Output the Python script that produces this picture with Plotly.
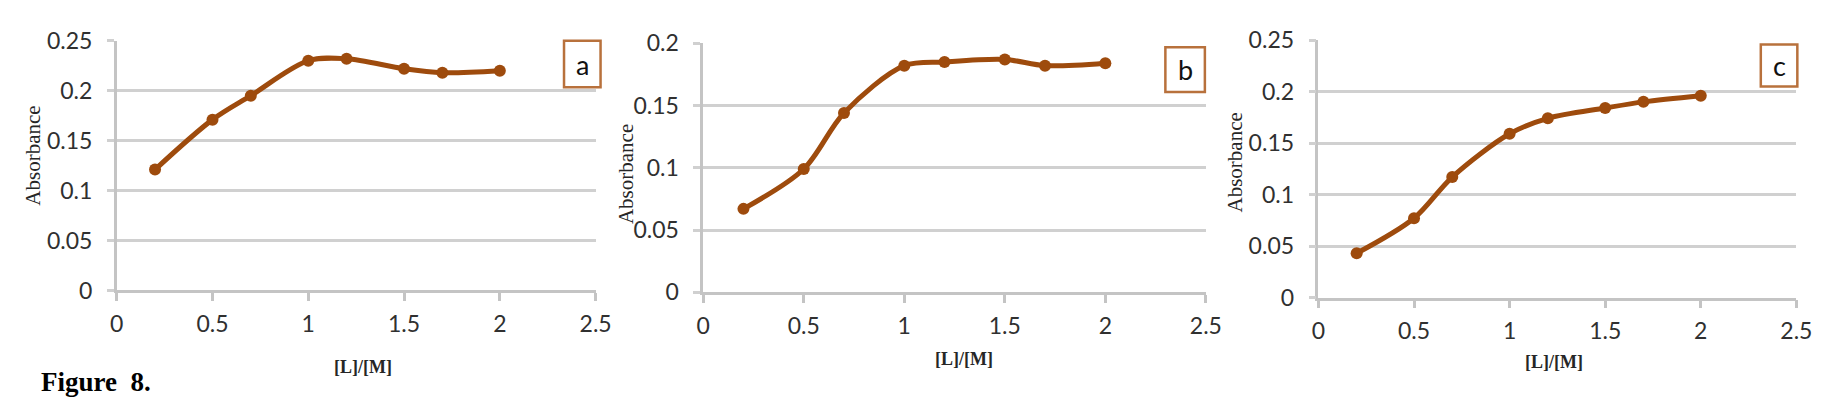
import plotly.graph_objects as go

W, H = 1832, 417

ratio = [0.2, 0.5, 0.7, 1.0, 1.2, 1.5, 1.7, 2.0]
abs_a = [0.121, 0.171, 0.195, 0.230, 0.232, 0.222, 0.218, 0.220]
abs_b = [0.067, 0.099, 0.144, 0.182, 0.185, 0.187, 0.182, 0.184]
abs_c = [0.043, 0.077, 0.117, 0.159, 0.174, 0.184, 0.190, 0.196]
panel_labels = ["a", "b", "c"]
x_title = "[L]/[M]"
y_title = "Absorbance"
caption = "Figure&nbsp;&nbsp;8."

BROWN = "#9E4B0D"
BOX = "#B8713C"
GRID = "#D0D0D0"
AXIS = "#C4C4C4"
TICKFONT = dict(family="Liberation Sans Narrow, Lato", size=23, color="#303030")

# pixel geometry of each panel: x0, x1 (px), ytop, ybottom (px)
panels = [
    dict(x=(103, 588), y=(19, 286.7), ymax=0.25, ytitle=(18, 142.5), xtitle=(352, 368.5), box=(556, 593, 19, 69)),
    dict(x=(697, 1206), y=(21.7, 288.7), ymax=0.20, ytitle=(619, 161.7), xtitle=(961, 360), box=(1165, 1205, 26, 74)),
    dict(x=(1320, 1804), y=(18.3, 294.3), ymax=0.25, ytitle=(1236, 149), xtitle=(1559, 363), box=(1768, 1805, 23, 68)),
]
series = [abs_a, abs_b, abs_c]

fig = go.Figure()
shapes = []
annotations = []
layout = {}
for i, (p, ys, lab) in enumerate(zip(panels, series, panel_labels)):
    n = "" if i == 0 else str(i + 1)
    fig.add_trace(go.Scatter(
        x=ratio, y=ys, mode="lines+markers",
        line=dict(color=BROWN, width=5, shape="spline", smoothing=0.9),
        marker=dict(color=BROWN, size=12),
        xaxis="x" + n, yaxis="y" + n, showlegend=False, cliponaxis=False,
    ))
    layout["xaxis" + n] = dict(
        domain=[p["x"][0] / W, p["x"][1] / W], range=[0, 2.5], anchor="y" + n,
        tickvals=[0, 0.5, 1, 1.5, 2, 2.5], ticktext=["0", "0.5", "1", "1.5", "2", "2.5"],
        showgrid=False, zeroline=False, showline=True, linecolor=AXIS, linewidth=2.5,
        ticks="outside", ticklen=8, tickwidth=2.5, tickcolor=AXIS,
        tickfont=TICKFONT, ticklabelstandoff=3,
    )
    step = 0.05
    tv = [round(k * step, 2) for k in range(int(round(p["ymax"] / step)) + 1)]
    layout["yaxis" + n] = dict(
        domain=[1 - p["y"][1] / H, 1 - p["y"][0] / H], range=[0, p["ymax"]], anchor="x" + n,
        tickvals=tv, ticktext=[("%g" % v) for v in tv],
        showgrid=True, gridcolor=GRID, gridwidth=2.5, zeroline=False,
        showline=True, linecolor=AXIS, linewidth=2.5,
        ticks="outside", ticklen=7, tickwidth=2.5, tickcolor=GRID,
        tickfont=TICKFONT, ticklabelstandoff=10,
    )
    # panel letter box
    bx0, bx1, by0, by1 = p["box"]
    shapes.append(dict(type="rect", xref="paper", yref="paper",
                       x0=bx0 / W, x1=bx1 / W, y0=1 - by1 / H, y1=1 - by0 / H,
                       line=dict(color=BOX, width=2.5), fillcolor="white", layer="above"))
    annotations.append(dict(text=lab, xref="paper", yref="paper",
                            x=(bx0 + bx1) / 2 / W, y=1 - (by0 + by1) / 2 / H,
                            showarrow=False, xanchor="center", yanchor="middle",
                            font=dict(family="Lato", size=27, color="#111111")))
    annotations.append(dict(text=y_title, xref="paper", yref="paper",
                            x=p["ytitle"][0] / W, y=1 - p["ytitle"][1] / H, textangle=-90,
                            showarrow=False, xanchor="center", yanchor="middle",
                            font=dict(family="Liberation Serif", size=21, color="#262626")))
    annotations.append(dict(text="<b>" + x_title + "</b>", xref="paper", yref="paper",
                            x=p["xtitle"][0] / W, y=1 - p["xtitle"][1] / H,
                            showarrow=False, xanchor="center", yanchor="middle",
                            font=dict(family="Liberation Serif", size=18, color="#262626")))

annotations.append(dict(text="<b>" + caption + "</b>", xref="paper", yref="paper",
                        x=24 / W, y=1 - 385 / H, showarrow=False, xanchor="left", yanchor="middle",
                        font=dict(family="Liberation Serif", size=27, color="black")))

fig.update_layout(
    width=W, height=H, margin=dict(l=0, r=0, t=0, b=0),
    paper_bgcolor="white", plot_bgcolor="white",
    shapes=shapes, annotations=annotations, **layout,
)
fig.write_html("out.html")
